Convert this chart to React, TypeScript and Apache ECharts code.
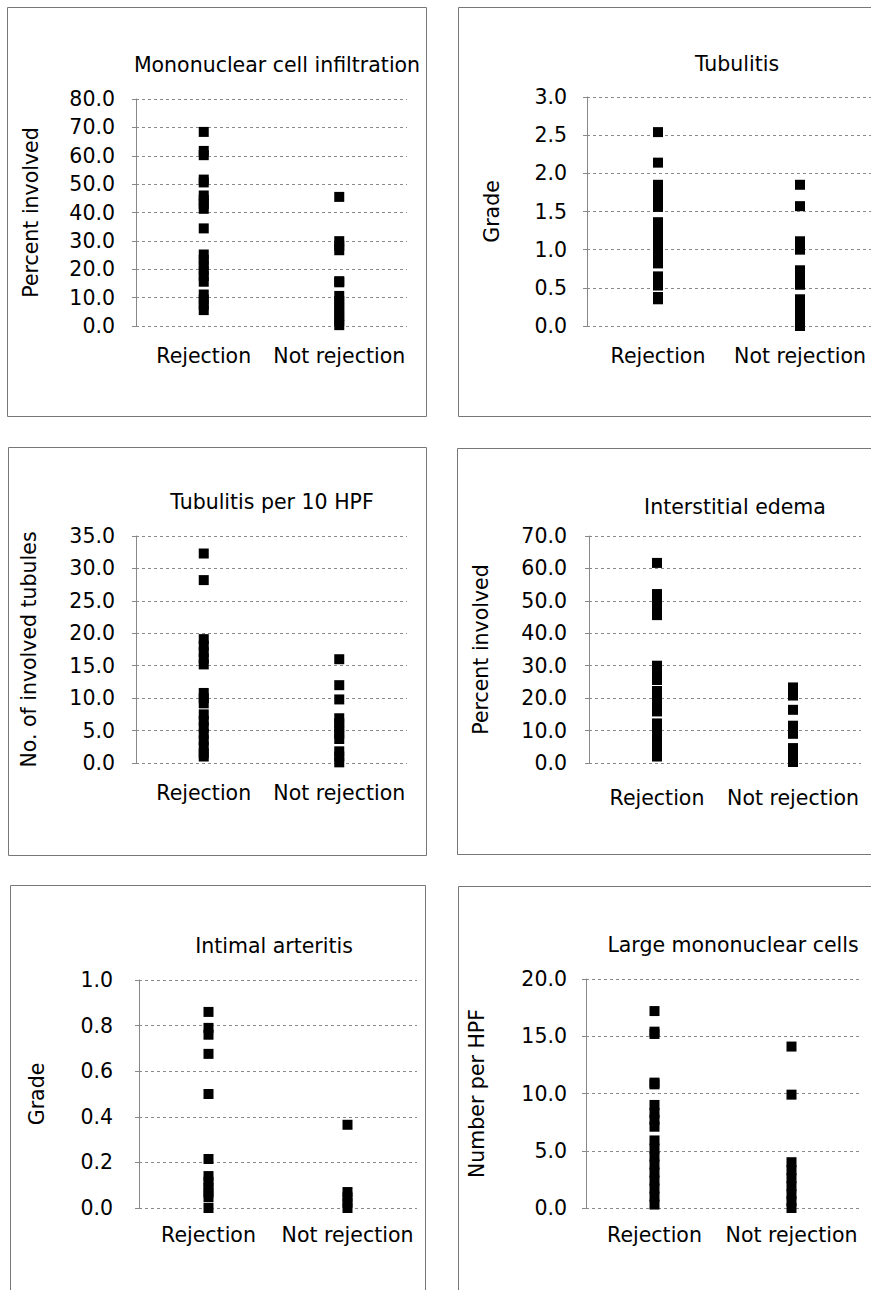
import React, { useEffect, useRef } from "react";
import * as echarts from "echarts";

// ---------- data ----------
const categories = ["Rejection", "Not rejection"];

const panelTitles = [
  "Mononuclear cell infiltration",
  "Tubulitis",
  "Tubulitis per 10 HPF",
  "Interstitial edema",
  "Intimal arteritis",
  "Large mononuclear cells",
];

const yAxisNames = [
  "Percent involved",
  "Grade",
  "No. of involved tubules",
  "Percent involved",
  "Grade",
  "Number per HPF",
];

const yMax = [80, 3, 35, 70, 1, 20];
const yInterval = [10, 0.5, 5, 10, 0.2, 5];

const mononuclearRejection = [68.4, 61.7, 60.2, 51.6, 50.6, 46, 44.5, 43, 41.3, 34.4, 25.2, 23.3, 21.4, 19.5, 17.6, 15.6, 11.1, 9.3, 7.5, 5.6];
const mononuclearNotRejection = [45.5, 29.9, 28.3, 26.7, 15.8, 15.4, 10.6, 8.8, 7, 5.2, 3.5, 1.8, 0.3];

const tubulitisRejection = [2.54, 2.14, 1.85, 1.75, 1.65, 1.56, 1.36, 1.27, 1.18, 1.09, 1.0, 0.91, 0.82, 0.65, 0.53, 0.38, 0.35];
const tubulitisNotRejection = [1.85, 1.57, 1.11, 1.0, 0.73, 0.63, 0.54, 0.35, 0.26, 0.17, 0.08, 0.0];

const tubulitisHpfRejection = [32.3, 28.2, 19.1, 18.1, 17.1, 16.1, 15.2, 10.8, 10.0, 9.2, 7.5, 6.5, 5.5, 4.5, 3.5, 2.5, 1.5, 1.0];
const tubulitisHpfNotRejection = [16.0, 12.0, 9.8, 6.9, 6.1, 5.3, 4.5, 3.7, 1.8, 1.0, 0.1];

const edemaRejection = [61.7, 52.1, 50.0, 47.8, 45.6, 30.0, 27.8, 25.6, 22.2, 20.1, 18.0, 15.9, 12.2, 10.2, 8.1, 6.1, 4.0, 2.0];
const edemaNotRejection = [23.3, 20.8, 16.4, 11.5, 9.0, 4.6, 2.5, 0.3];

const arteritisRejection = [0.86, 0.79, 0.76, 0.676, 0.5, 0.215, 0.14, 0.115, 0.09, 0.068, 0.047, 0.0];
const arteritisNotRejection = [0.365, 0.07, 0.047, 0.023, 0.0];

const largeCellsRejection = [17.2, 15.4, 15.2, 10.95, 10.8, 9.0, 8.3, 7.7, 7.1, 5.9, 5.2, 4.5, 3.8, 3.1, 2.4, 1.7, 1.0, 0.3];
const largeCellsNotRejection = [14.1, 9.9, 4.0, 3.3, 2.6, 1.9, 1.2, 0.6, 0.0];

const rejectionValues = [
  mononuclearRejection,
  tubulitisRejection,
  tubulitisHpfRejection,
  edemaRejection,
  arteritisRejection,
  largeCellsRejection,
];
const notRejectionValues = [
  mononuclearNotRejection,
  tubulitisNotRejection,
  tubulitisHpfNotRejection,
  edemaNotRejection,
  arteritisNotRejection,
  largeCellsNotRejection,
];

// ---------- layout ----------
const FONT = "DejaVu Sans";
const FS = 20.5;

const layout = [
  { grid: { left: 136, top: 99, width: 271, height: 227 }, title: [272, 65], nameGap: 95, labelMargin: 21, catMargin: 19, box: [7, 7, 419, 409] },
  { grid: { left: 587, top: 97, width: 287, height: 229 }, title: [732, 64], nameGap: 85, labelMargin: 20, catMargin: 19, box: [458, 7, 430, 409] },
  { grid: { left: 136, top: 536, width: 271, height: 227 }, title: [267, 502], nameGap: 97, labelMargin: 21, catMargin: 19, box: [8, 447, 418, 408] },
  { grid: { left: 589, top: 536, width: 272, height: 227 }, title: [730, 507], nameGap: 98, labelMargin: 22, catMargin: 24, box: [457, 448, 430, 406] },
  { grid: { left: 139, top: 980, width: 278, height: 228 }, title: [269, 946], nameGap: 92, labelMargin: 26, catMargin: 16, box: [10, 885, 415, 420] },
  { grid: { left: 586, top: 979, width: 274, height: 229 }, title: [728, 945], nameGap: 99, labelMargin: 19, catMargin: 16, box: [458, 886, 430, 420] },
];

export default function App() {
  const ref = useRef<HTMLDivElement>(null);

  useEffect(() => {
    if (!ref.current) return;
    const chart = echarts.init(ref.current, null, { renderer: "svg" });

    const grids = layout.map((l) => ({ ...l.grid, containLabel: false }));

    const titles = layout.map((l, i) => ({
      text: panelTitles[i],
      left: l.title[0],
      top: l.title[1] - 5 - FS / 2,
      textAlign: "center",
      textStyle: { fontFamily: FONT, fontSize: FS, fontWeight: "normal", color: "#000" },
    }));

    const xAxes = layout.map((l, i) => ({
      type: "category",
      gridIndex: i,
      data: categories,
      boundaryGap: true,
      axisLine: { show: false },
      axisTick: { show: false },
      splitLine: { show: false },
      axisLabel: { fontFamily: FONT, fontSize: FS, color: "#000", margin: l.catMargin, interval: 0 },
    }));

    const yAxes = layout.map((l, i) => ({
      type: "value",
      gridIndex: i,
      min: 0,
      max: yMax[i],
      interval: yInterval[i],
      name: yAxisNames[i],
      nameLocation: "middle",
      nameRotate: 90,
      nameGap: l.nameGap,
      nameTextStyle: { fontFamily: FONT, fontSize: FS, color: "#000" },
      axisLine: { show: true, lineStyle: { color: "#888", width: 1 } },
      axisTick: { show: true, length: 4, lineStyle: { color: "#888", width: 1 } },
      splitLine: { show: true, lineStyle: { color: "#8a8a8a", width: 1, type: [3, 3] } },
      axisLabel: {
        fontFamily: FONT,
        fontSize: FS,
        color: "#000",
        margin: l.labelMargin,
        formatter: (v: number) => v.toFixed(1),
      },
    }));

    const series = layout.map((_, i) => ({
      type: "scatter",
      xAxisIndex: i,
      yAxisIndex: i,
      symbol: "rect",
      symbolSize: 10,
      clip: false,
      itemStyle: { color: "#000", opacity: 1 },
      emphasis: { disabled: true },
      data: [
        ...rejectionValues[i].map((v) => [categories[0], v]),
        ...notRejectionValues[i].map((v) => [categories[1], v]),
      ],
    }));

    const graphic = layout.map((l) => ({
      type: "rect",
      z: -1,
      silent: true,
      shape: { x: l.box[0] + 0.5, y: l.box[1] + 0.5, width: l.box[2], height: l.box[3] },
      style: { fill: "none", stroke: "#777", lineWidth: 1 },
    }));

    chart.setOption({
      animation: false,
      backgroundColor: "#fff",
      title: titles,
      grid: grids,
      xAxis: xAxes,
      yAxis: yAxes,
      series,
      graphic,
    });

    return () => chart.dispose();
  }, []);

  return (
    <div
      ref={ref}
      style={{ position: "absolute", left: 0, top: 0, width: 871, height: 1290, background: "#fff" }}
    />
  );
}
